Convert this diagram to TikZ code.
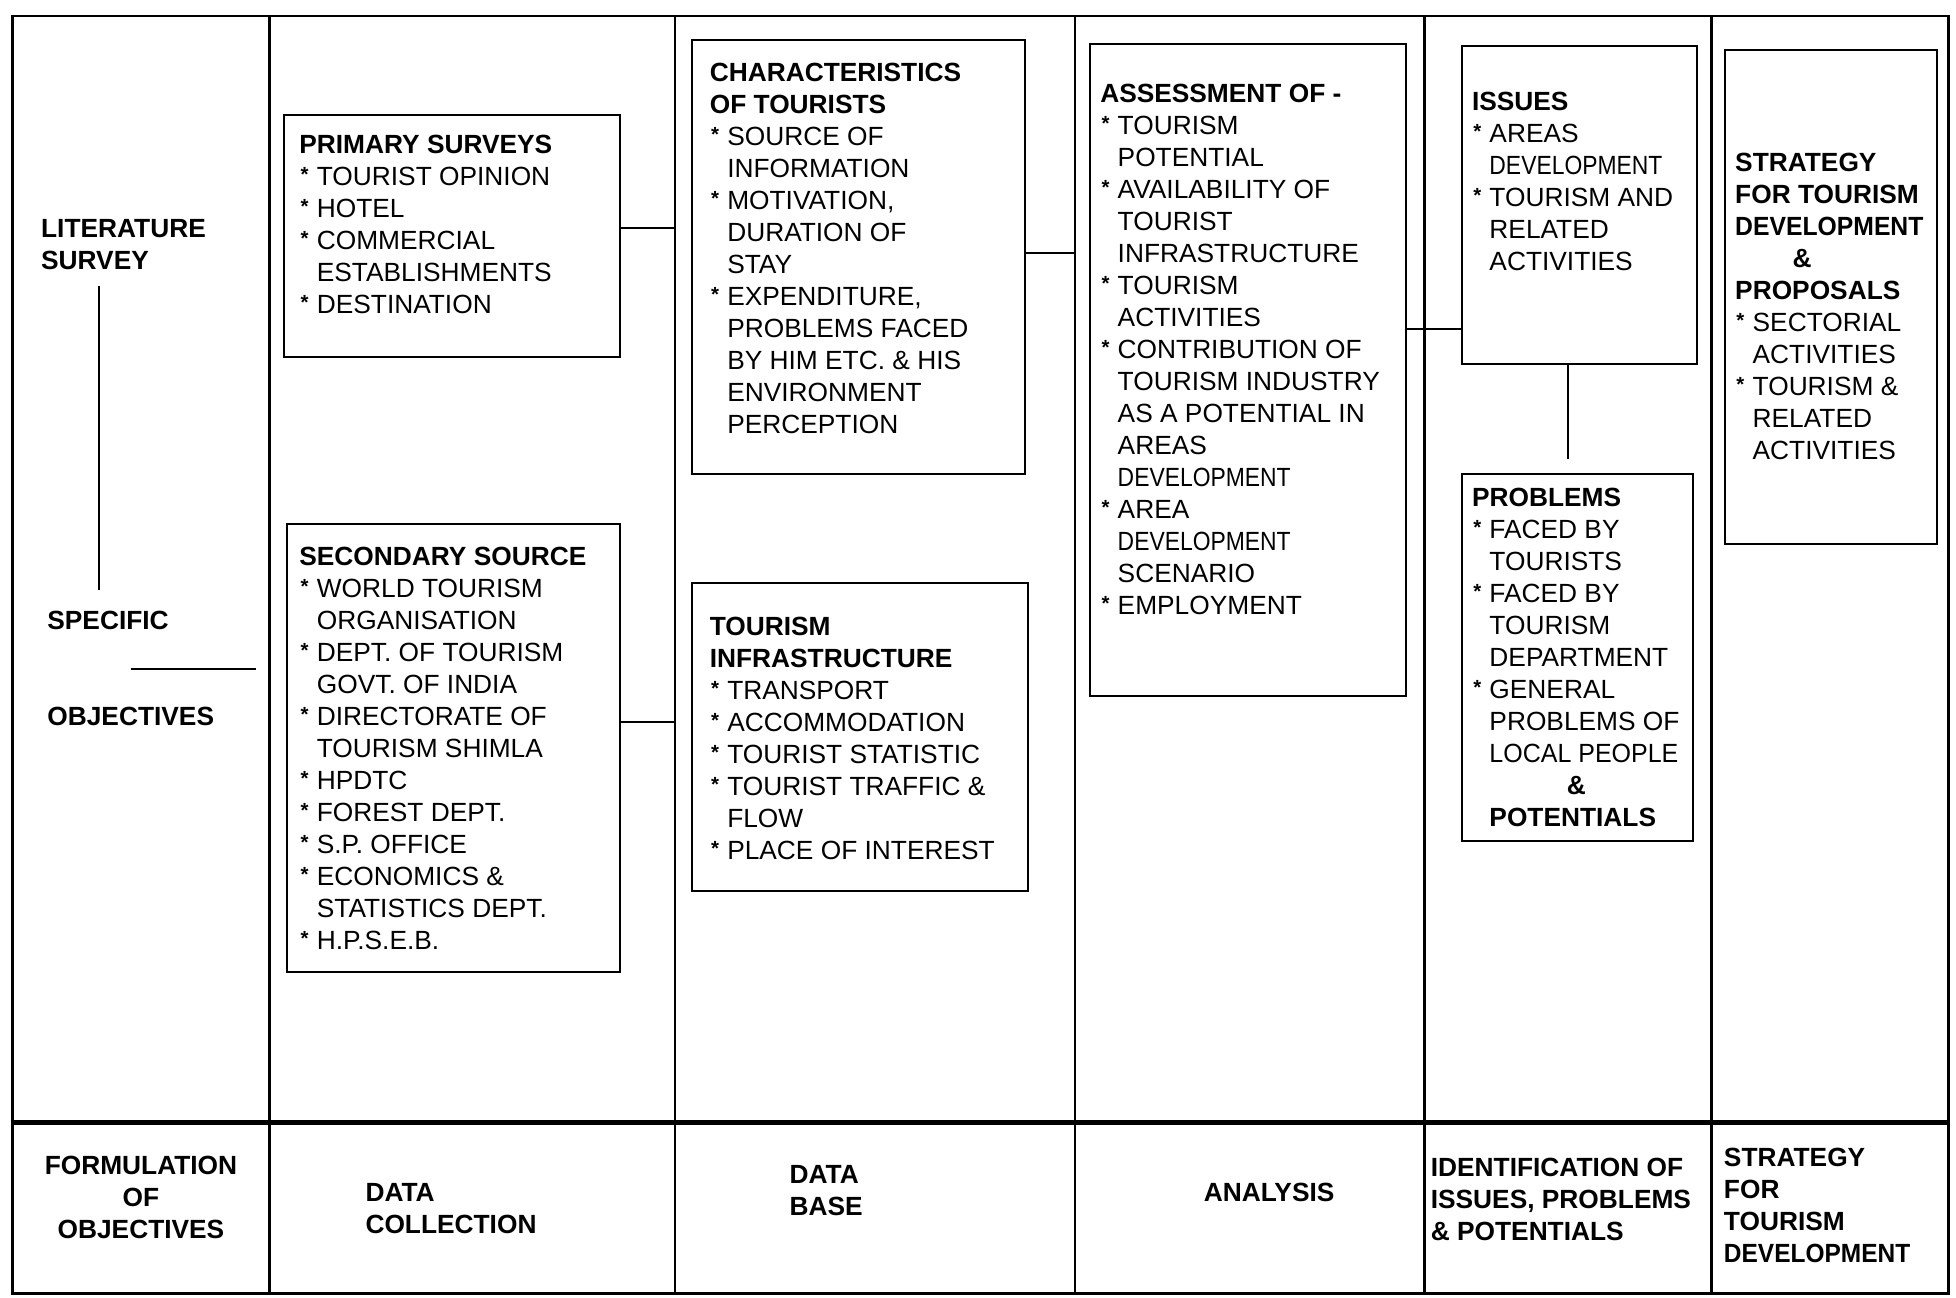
\documentclass[tikz,border=0pt]{standalone}
\usepackage{fontspec}
\setmainfont{Liberation Sans}
\usepackage{graphicx}
\usetikzlibrary{calc,fit}

% bullet star and hanging indent for list items
\newcommand{\itemstar}{\makebox[0.42cm][l]{\hspace{0.03cm}\raisebox{2.6pt}{\fontsize{14}{14}\selectfont\bfseries *}}}
\newcommand{\contind}{\hspace*{0.42cm}}
\newcommand{\devreg}{\scalebox{0.87}[1]{DEVELOPMENT}}

\begin{document}
\begin{tikzpicture}[x=0.03cm, y=-0.03cm,
  frame/.style={line width=1.6pt},
  thickrule/.style={line width=3.4pt},
  box/.style={draw, line width=1.4pt, inner sep=0pt, outer sep=0pt},
  txt/.style={inner sep=0pt, outer sep=0pt, anchor=north west, align=left,
              font=\fontsize{18}{21.9}\selectfont},
  lbl/.style={txt, font=\fontsize{18}{21.9}\selectfont\bfseries},
  link/.style={line width=1.4pt}]

\useasboundingbox (0,0) rectangle (1568,1040);
\fill[white] (0,0) rectangle (1568,1040);

% outer frame, column dividers and the rule above the stage titles
\draw[frame] (10,13) rectangle (1562,1037);
\foreach \x in {216,541,862,1142,1372} \draw[frame] (\x,13) -- (\x,1037);
\draw[thickrule] (10,900) -- (1562,900);

% ---- column 1: objectives
\node[lbl] (lit) at (33,175.5) {LITERATURE\\SURVEY};
\node[lbl] (spec) at (38,489.5) {SPECIFIC};
\node[lbl] (obj) at (38,566.5) {OBJECTIVES};
\coordinate (litx) at (79,0);
\draw[link] ($(lit.south -| litx)+(0,13.5)$) -- ($(spec.north -| litx)+(0,-16.5)$);
\coordinate (sepL) at (105,536);
\coordinate (sepR) at (205,536);
\draw[link] (sepL) -- (sepR);

% ---- column 2: data collection
\node[box, fit={(228,92) (497,286)}] (prim) {};
\node[txt] (primT) at (240,108.5) {\textbf{PRIMARY SURVEYS}\\
\itemstar TOURIST OPINION\\
\itemstar HOTEL\\
\itemstar COMMERCIAL\\
\contind ESTABLISHMENTS\\
\itemstar DESTINATION};

\node[box, fit={(230,420) (497,779)}] (sec) {};
\node[txt] (secT) at (240,438.5) {\textbf{SECONDARY SOURCE}\\
\itemstar WORLD TOURISM\\
\contind ORGANISATION\\
\itemstar DEPT. OF TOURISM\\
\contind GOVT. OF INDIA\\
\itemstar DIRECTORATE OF\\
\contind TOURISM SHIMLA\\
\itemstar HPDTC\\
\itemstar FOREST DEPT.\\
\itemstar S.P. OFFICE\\
\itemstar ECONOMICS \&\\
\contind STATISTICS DEPT.\\
\itemstar H.P.S.E.B.};

% ---- column 3: data base
\node[box, fit={(555,32) (822,380)}] (char) {};
\node[txt] (charT) at (569,50.5) {\textbf{CHARACTERISTICS}\\
\textbf{OF TOURISTS}\\
\itemstar SOURCE OF\\
\contind INFORMATION\\
\itemstar MOTIVATION,\\
\contind DURATION OF\\
\contind STAY\\
\itemstar EXPENDITURE,\\
\contind PROBLEMS FACED\\
\contind BY HIM ETC. \& HIS\\
\contind ENVIRONMENT\\
\contind PERCEPTION};

\node[box, fit={(555,467) (824,714)}] (infra) {};
\node[txt] (infraT) at (569,494.5) {\textbf{TOURISM}\\
\textbf{INFRASTRUCTURE}\\
\itemstar TRANSPORT\\
\itemstar ACCOMMODATION\\
\itemstar TOURIST STATISTIC\\
\itemstar TOURIST TRAFFIC \&\\
\contind FLOW\\
\itemstar PLACE OF INTEREST};

% ---- column 4: analysis
\node[box, fit={(874,35) (1127,558)}] (ass) {};
\node[txt] (assT) at (882,67.5) {\textbf{ASSESSMENT OF -}\\
\itemstar TOURISM\\
\contind POTENTIAL\\
\itemstar AVAILABILITY OF\\
\contind TOURIST\\
\contind INFRASTRUCTURE\\
\itemstar TOURISM\\
\contind ACTIVITIES\\
\itemstar CONTRIBUTION OF\\
\contind TOURISM INDUSTRY\\
\contind AS A POTENTIAL IN\\
\contind AREAS\\
\contind \devreg\\
\itemstar AREA\\
\contind \devreg\\
\contind SCENARIO\\
\itemstar EMPLOYMENT};

% ---- column 5: issues, problems & potentials
\node[box, fit={(1172,37) (1360,292)}] (iss) {};
\node[txt] (issT) at (1180,73.5) {\textbf{ISSUES}\\
\itemstar AREAS\\
\contind \devreg\\
\itemstar TOURISM AND\\
\contind RELATED\\
\contind ACTIVITIES};

\node[box, fit={(1172,380) (1357,674)}] (prob) {};
\node[txt] (probT) at (1180,391.5) {\textbf{PROBLEMS}\\
\itemstar FACED BY\\
\contind TOURISTS\\
\itemstar FACED BY\\
\contind TOURISM\\
\contind DEPARTMENT\\
\itemstar GENERAL\\
\contind PROBLEMS OF\\
\contind \scalebox{0.95}[1]{LOCAL PEOPLE}\\
\hspace*{2.28cm}\textbf{\&}\\
\contind\textbf{POTENTIALS}};

% ---- column 6: strategy
\node[box, fit={(1383,40) (1553,436)}] (strat) {};
\node[txt] (stratT) at (1391,122.5) {\textbf{STRATEGY}\\
\textbf{FOR TOURISM}\\
\textbf{\scalebox{0.94}[1]{DEVELOPMENT}}\\
\hspace*{1.38cm}\textbf{\&}\\
\textbf{PROPOSALS}\\
\itemstar SECTORIAL\\
\contind ACTIVITIES\\
\itemstar TOURISM \&\\
\contind RELATED\\
\contind ACTIVITIES};

% ---- connectors from the boxes
\coordinate (d2a) at (541,183);
\draw[link] (prim.east |- d2a) -- (d2a);
\coordinate (d2b) at (541,579);
\draw[link] (sec.east |- d2b) -- (d2b);
\coordinate (d3) at (862,203);
\draw[link] (char.east |- d3) -- (d3);
\coordinate (d4) at (1142,264);
\draw[link] (ass.east |- d4) -- (iss.west |- d4);
\coordinate (ipx) at (1257,0);
\draw[link] (iss.south -| ipx) -- ($(prob.north -| ipx)+(0,-12)$);

% ---- stage titles
\node[lbl, anchor=north, align=center] (formul) at (113,926.5) {FORMULATION\\OF\\OBJECTIVES};
\node[lbl] (datacol) at (293,948.5) {DATA\\COLLECTION};
\node[lbl] (database) at (633,934.5) {DATA\\BASE};
\node[lbl] (analysis) at (965,948.5) {ANALYSIS};
\node[lbl] (ident) at (1147,928.5) {IDENTIFICATION OF\\ISSUES, PROBLEMS\\\& POTENTIALS};
\node[lbl] (stratlbl) at (1382,920.5) {STRATEGY\\FOR\\TOURISM\\\scalebox{0.93}[1]{DEVELOPMENT}};

\end{tikzpicture}
\end{document}
